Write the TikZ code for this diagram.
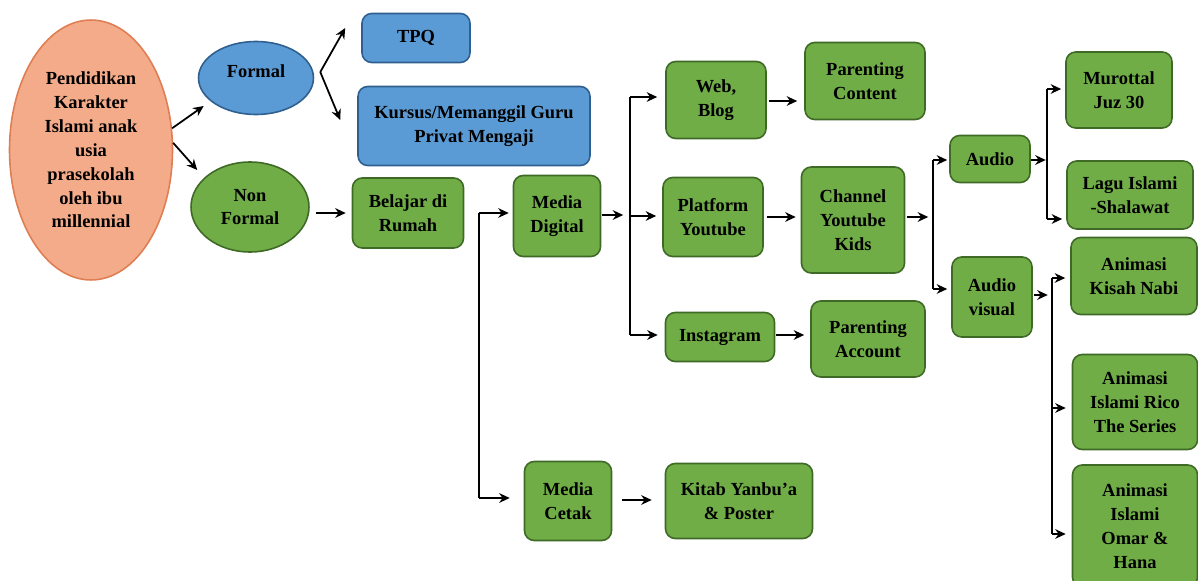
\documentclass[tikz,border=0pt]{standalone}
\usepackage{fontspec}
\setmainfont{Liberation Serif}
\usetikzlibrary{arrows.meta,shapes.geometric,calc}
\definecolor{gfill}{HTML}{70AD47}
\definecolor{gdraw}{HTML}{3F6A26}
\definecolor{bfill}{HTML}{5B9BD5}
\definecolor{bdraw}{HTML}{2F5F8F}
\definecolor{ofill}{HTML}{F4AB8A}
\definecolor{odraw}{HTML}{DE7E52}
\begin{document}
\begin{tikzpicture}[x=0.02cm,y=-0.02cm,
  every node/.style={font=\bfseries\fontsize{10.5}{13.6}\selectfont, align=center, inner sep=1pt},
  gbox/.style={draw=gdraw, fill=gfill, line width=0.9pt, rounded corners=5.5pt},
  bbox/.style={draw=bdraw, fill=bfill, line width=0.9pt, rounded corners=5.5pt},
  gell/.style={ellipse, draw=gdraw, fill=gfill, line width=0.9pt, inner sep=0pt},
  bell/.style={ellipse, draw=bdraw, fill=bfill, line width=0.9pt, inner sep=0pt},
  oell/.style={ellipse, draw=odraw, fill=ofill, line width=0.9pt, inner sep=0pt},
  arr/.style={-{Stealth[length=6pt,width=5.5pt]}, line width=1pt},
  plainline/.style={line width=1pt}]
\useasboundingbox (0,0) rectangle (1198,581);

% nodes
\node[oell, minimum width=3.26cm, minimum height=5.2cm] (big) at (91,150) {Pendidikan\\Karakter\\Islami anak\\usia\\prasekolah\\oleh ibu\\millennial};
\node[bell, minimum width=2.3cm, minimum height=1.46cm] (formal) at (256,78) {};
\node (formaltxt) at (256,71) {Formal};
\node[gell, minimum width=2.36cm, minimum height=1.8cm] (nonformal) at (250,207) {Non\\Formal};
\node[bbox, minimum width=2.16cm, minimum height=0.98cm] (tpq) at (416,38) {TPQ};
\node[bbox, minimum width=4.64cm, minimum height=1.58cm] (kursus) at (474,126) {Kursus/Memanggil Guru\\Privat Mengaji};
\node[gbox, minimum width=2.22cm, minimum height=1.4cm] (belajar) at (408,213) {Belajar di\\Rumah};
\node[gbox, minimum width=1.74cm, minimum height=1.62cm] (mediad) at (557,216) {Media\\Digital};
\node[gbox, minimum width=1.74cm, minimum height=1.58cm] (mediac) at (568,501) {Media\\Cetak};
\node[gbox, minimum width=2.94cm, minimum height=1.5cm] (kitab) at (739,501) {Kitab Yanbu’a\\\& Poster};
\node[gbox, minimum width=2.0cm, minimum height=1.54cm] (web) at (716,100) {Web,\\Blog};
\node[gbox, minimum width=2.4cm, minimum height=1.54cm] (pcontent) at (865,81) {Parenting\\Content};
\node[gbox, minimum width=2.0cm, minimum height=1.58cm] (platform) at (713,217) {Platform\\Youtube};
\node[gbox, minimum width=2.06cm, minimum height=2.12cm] (channel) at (853,220) {Channel\\Youtube\\Kids};
\node[gbox, minimum width=2.18cm, minimum height=0.98cm] (insta) at (720,337) {Instagram};
\node[gbox, minimum width=2.28cm, minimum height=1.52cm] (paccount) at (868,339) {Parenting\\Account};
\node[gbox, minimum width=1.6cm, minimum height=0.94cm] (audio) at (990,159) {Audio};
\node[gbox, minimum width=1.6cm, minimum height=1.6cm] (av) at (992,297) {Audio\\visual};
\node[gbox, minimum width=2.12cm, minimum height=1.52cm] (murottal) at (1119,90) {Murottal\\Juz 30};
\node[gbox, minimum width=2.52cm, minimum height=1.36cm] (lagu) at (1130,195) {Lagu Islami\\-Shalawat};
\node[gbox, minimum width=2.52cm, minimum height=1.54cm] (kisah) at (1134,276) {Animasi\\Kisah Nabi};
\node[gbox, minimum width=2.5cm, minimum height=1.9cm] (rico) at (1135,402) {Animasi\\Islami Rico\\The Series};
\node[gbox, minimum width=2.5cm, minimum height=2.44cm] (omar) at (1135,526) {Animasi\\Islami\\Omar \&\\Hana};

% connectors
\draw[arr] (big.15) -- ($(formal.west)+(6,28)$);
\draw[arr] (big.5) -- ($(nonformal.west)+(7,-37)$);
\coordinate (fk) at ($(formal.east)+(6,-6)$);
\draw[arr] (fk) -- ($(tpq.west)+(-16,-10)$);
\draw[arr] (fk) -- ($(kursus.west)+(-17,-6)$);
\draw[arr] ($(nonformal.east)+(6,6)$) -- ($(belajar.west)+(-6,0)$);

\coordinate (b1) at (479,213);
\coordinate (b2) at (479,498);
\draw[plainline] (b1) -- (b2);
\draw[arr] (b1) -- ($(mediad.west)+(-4,-3)$);
\draw[arr] (b2) -- ($(mediac.west)+(-14,-3)$);
\draw[arr] ($(mediac.east)+(10,-1)$) -- ($(kitab.west)+(-13,-1)$);

\draw[arr] ($(mediad.east)+(1,-1)$) -- ++(21,0);
\coordinate (v1) at (630,97);
\coordinate (v2) at (630,216);
\coordinate (v3) at (630,335);
\draw[plainline] (v1) -- (v3);
\draw[arr] (v1) -- ($(web.west |- v1)+(-8,0)$);
\draw[arr] (v2) -- ($(platform.west |- v2)+(-6,0)$);
\draw[arr] (v3) -- ($(insta.west |- v3)+(-7,0)$);

\draw[arr] ($(web.east)+(2,1)$) -- ($(pcontent.west |- web.east)+(-7,1)$);
\draw[arr] ($(platform.east)+(3,0)$) -- ($(channel.west |- platform.east)+(-5,0)$);
\draw[arr] ($(insta.east)+(1,-2)$) -- ($(paccount.west |- insta.east)+(-6,-2)$);

\draw[arr] ($(channel.east)+(2,-3)$) -- ++(21,0);
\coordinate (c1) at (933,160);
\coordinate (c2) at (933,289);
\draw[plainline] (c1) -- (c2);
\draw[arr] (c1) -- ($(audio.west |- c1)+(-2,0)$);
\draw[arr] (c2) -- ($(av.west |- c2)+(-4,0)$);

\draw[arr] ($(audio.east)+(0,1)$) -- ++(15,0);
\coordinate (a1) at (1047,89);
\coordinate (a2) at (1047,219);
\draw[plainline] (a1) -- (a2);
\draw[arr] (a1) -- ($(murottal.west |- a1)+(-4,0)$);
\draw[arr] (a2) -- ($(lagu.west |- a2)+(-4,0)$);

\draw[arr] ($(av.east)+(1,-2)$) -- ++(14,0);
\coordinate (d1) at (1052,278);
\coordinate (d2) at (1052,408);
\coordinate (d3) at (1052,534);
\draw[plainline] (d1) -- (d3);
\draw[arr] (d1) -- ($(kisah.west |- d1)+(-5,0)$);
\draw[arr] (d2) -- ($(rico.west |- d2)+(-6,0)$);
\draw[arr] (d3) -- ($(omar.west |- d3)+(-6,0)$);
\end{tikzpicture}
\end{document}
